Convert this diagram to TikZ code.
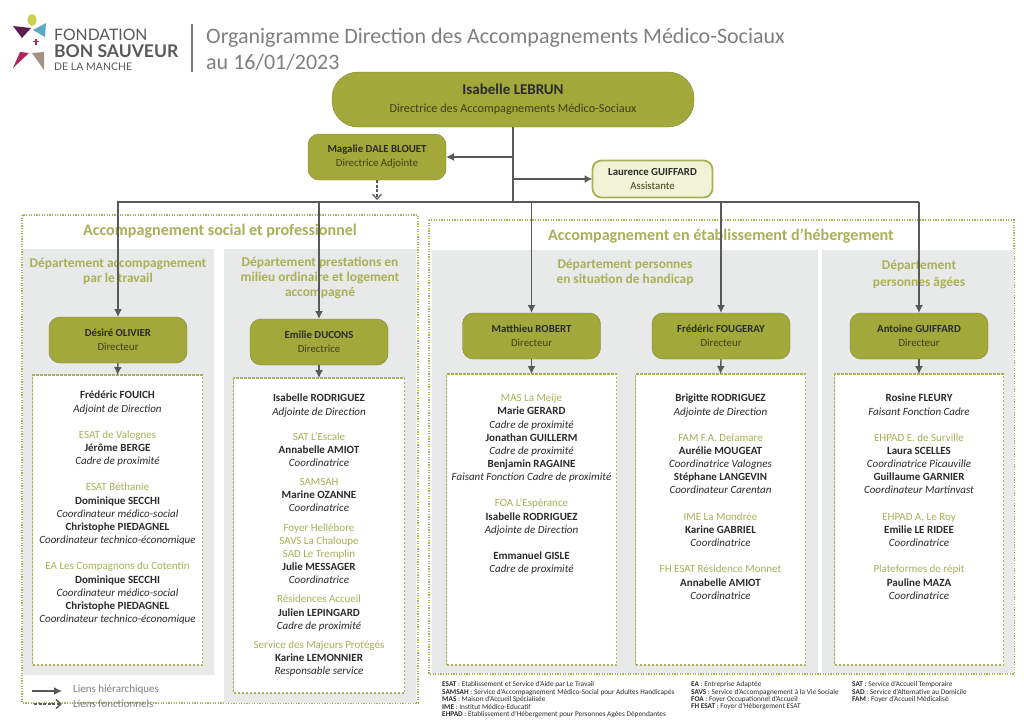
\documentclass[tikz,border=0pt]{standalone}
\usepackage{fontspec}
\setmainfont{Carlito}
\newfontfamily\logofont{Lato}
\usetikzlibrary{arrows.meta}
\definecolor{olivefill}{HTML}{A3A83A}
\definecolor{olivedk}{HTML}{7F8430}
\definecolor{ltol}{HTML}{A9B057}
\definecolor{pale}{HTML}{F1F3D6}
\definecolor{panelg}{HTML}{E8E9E9}
\definecolor{lineg}{HTML}{595959}
\definecolor{txtg}{HTML}{7F7F7F}
\definecolor{txtk}{HTML}{2B2B2B}
\definecolor{dirtxt}{HTML}{3F4018}
\definecolor{lgyellow}{HTML}{C9D24A}
\definecolor{lgpurple}{HTML}{5B1E4E}
\definecolor{lgblue}{HTML}{5BA9C4}
\definecolor{lgred}{HTML}{B0245F}
\definecolor{lgtaupe}{HTML}{A39382}
\definecolor{lgtext}{HTML}{58595B}
\newcommand{\hd}[1]{{\color{ltol}#1}}
\newcommand{\nm}[1]{{\bfseries\color{txtk}#1}}
\newcommand{\rl}[1]{{\itshape\color{txtk}#1}}
\tikzset{
 x=1pt,y=-1pt,
 dirbox/.style={draw=olivedk,fill=olivefill,rounded corners=11pt,minimum width=138pt,minimum height=46pt,align=center,font=\fontsize{10.8}{14}\selectfont,text=dirtxt,inner sep=0pt,outer sep=0pt},
 outerbox/.style={draw=ltol,dash pattern=on 1.2pt off 1.4pt,line width=1.1pt},
 panel/.style={fill=panelg},
 innerbox/.style={draw=ltol,fill=white,dash pattern=on 2.5pt off 1.5pt,line width=1.4pt,inner sep=0pt,outer sep=0pt},
 paneltxt/.style={anchor=north,align=center,font=\fontsize{11}{13.15}\selectfont,inner sep=0pt},
 secttl/.style={font=\fontsize{16.1}{18}\selectfont\bfseries,text=ltol,inner sep=0pt},
 depttl/.style={font=\fontsize{13.4}{15}\selectfont\bfseries,text=ltol,align=center,inner sep=0pt},
 hier/.style={draw=lineg,line width=1.4pt},
 hierarrow/.style={hier,-{Latex[length=8pt,width=8pt]}},
 fnarrow/.style={draw=lineg,line width=1.2pt,dash pattern=on 3pt off 1.5pt,-{Straight Barb[length=5pt,width=9pt]}},
 foot/.style={anchor=north west,align=left,font=\fontsize{7.3}{7.4}\selectfont,text=txtk,inner sep=0pt},
 legendtxt/.style={anchor=west,font=\fontsize{11}{13}\selectfont,text=txtg,inner sep=0pt},
 titletxt/.style={anchor=base west,font=\fontsize{22}{24}\selectfont,text=txtg,inner sep=0pt},
 logotxt/.style={anchor=base west,text=lgtext,inner sep=0pt},
}
\begin{document}
\begin{tikzpicture}
\useasboundingbox (0,0) rectangle (1024,724);
\fill[white] (0,0) rectangle (1024,724);
% logo
\fill[lgyellow] (32,20) ellipse (4.5pt and 6pt);
\fill[lgpurple] (13,26) -- (31,28) -- (22,38) -- cycle;
\fill[lgblue] (46,23) -- (33,30) -- (45,37) -- cycle;
\fill[lgred] (35.3,38.5) rectangle (36.7,44.5);
\fill[lgred] (33,40.8) rectangle (39,42.2);
\fill[lgred] (20,52) -- (29,53) -- (13,68) -- cycle;
\fill[lgtaupe] (32,53) -- (44,52) -- (44,70) -- cycle;
\node[logotxt,font=\logofont\fontsize{15.8}{16}\selectfont] (lg1) at (54,40) {FONDATION};
\node[logotxt,font=\logofont\bfseries\fontsize{17.5}{18}\selectfont] (lg2) at (54,57) {BON SAUVEUR};
\node[logotxt,font=\logofont\fontsize{10.5}{11}\selectfont] (lg3) at (54,70) {DE LA MANCHE};
\draw[lineg!80,line width=1.2pt] (192,24) -- (192,72);
\node[titletxt] (ttl1) at (206,43) {Organigramme Direction des Accompagnements Médico-Sociaux};
\node[titletxt] (ttl2) at (206,69) {au 16/01/2023};
% frames and panels
\draw[outerbox] (22,215) rectangle (418,703);
\draw[outerbox] (429,220) rectangle (1014,674);
\fill[panel] (23,249) rectangle (214,675);
\fill[panel] (224,249) rectangle (416,703);
\fill[panel] (432,250) rectangle (818,673);
\fill[panel] (822,250) rectangle (1014,673);
\node[secttl] (s1) at (220,231.5) {Accompagnement social et professionnel};
\node[secttl] (s2) at (721,236) {Accompagnement en établissement d’hébergement};
\node[depttl] (d1) at (118,271.5) {Département accompagnement\\par le travail};
\node[depttl] (d2) at (320,278) {Département prestations en\\milieu ordinaire et logement\\accompagné};
\node[depttl] (d3) at (625,272.5) {Département personnes\\en situation de handicap};
\node[depttl] (d4) at (919,274.5) {Département\\[2pt]personnes âgées};
% top nodes
\node[dirbox,rounded corners=26pt,minimum width=362pt,minimum height=55pt,font=\fontsize{12.2}{18}\selectfont] (top) at (513,99.5) {{\fontsize{15}{18}\selectfont\bfseries\color{txtk}Isabelle LEBRUN}\\Directrice des Accompagnements Médico-Sociaux};
\node[dirbox] (adj) at (377,157) {{\bfseries\color{txtk}Magalie DALE BLOUET}\\Directrice Adjointe};
\node[dirbox,draw=ltol,line width=1.8pt,fill=pale,minimum width=120pt,minimum height=37pt,rounded corners=9pt] (asst) at (652.5,179) {{\bfseries\color{txtk}Laurence GUIFFARD}\\Assistante};
% directors
\node[dirbox] (dir1) at (118,340) {{\bfseries\color{txtk}Désiré OLIVIER}\\Directeur};
\node[dirbox] (dir2) at (319,342) {{\bfseries\color{txtk}Emilie DUCONS}\\Directrice};
\node[dirbox] (dir3) at (531.5,336) {{\bfseries\color{txtk}Matthieu ROBERT}\\Directeur};
\node[dirbox] (dir4) at (721,336) {{\bfseries\color{txtk}Frédéric FOUGERAY}\\Directeur};
\node[dirbox] (dir5) at (919,336) {{\bfseries\color{txtk}Antoine GUIFFARD}\\Directeur};
% staff boxes
\node[innerbox,minimum width=170pt,minimum height=290pt] (box1) at (117.5,520) {};
\node[innerbox,minimum width=171pt,minimum height=315pt] (box2) at (319,535.5) {};
\node[innerbox,minimum width=170pt,minimum height=291pt] (box3) at (531.5,519.5) {};
\node[innerbox,minimum width=170pt,minimum height=291pt] (box4) at (720.5,519.5) {};
\node[innerbox,minimum width=169pt,minimum height=291pt] (box5) at (919,519.5) {};
\node[paneltxt] (t1) at (117.5,391) {\nm{Frédéric FOUICH}\\\rl{Adjoint de Direction}\\[13.15pt]
\hd{ESAT de Valognes}\\\nm{Jérôme BERGE}\\\rl{Cadre de proximité}\\[13.15pt]
\hd{ESAT Béthanie}\\\nm{Dominique SECCHI}\\\rl{Coordinateur médico-social}\\\nm{Christophe PIEDAGNEL}\\\rl{Coordinateur technico-économique}\\[13.15pt]
\hd{EA Les Compagnons du Cotentin}\\\nm{Dominique SECCHI}\\\rl{Coordinateur médico-social}\\\nm{Christophe PIEDAGNEL}\\\rl{Coordinateur technico-économique}};
\node[paneltxt] (t2) at (319,394) {\nm{Isabelle RODRIGUEZ}\\\rl{Adjointe de Direction}\\[12pt]
\hd{SAT L'Escale}\\\nm{Annabelle AMIOT}\\\rl{Coordinatrice}\\[6pt]
\hd{SAMSAH}\\\nm{Marine OZANNE}\\\rl{Coordinatrice}\\[6pt]
\hd{Foyer Hellébore}\\\hd{SAVS La Chaloupe}\\\hd{SAD Le Tremplin}\\\nm{Julie MESSAGER}\\\rl{Coordinatrice}\\[6pt]
\hd{Résidences Accueil}\\\nm{Julien LEPINGARD}\\\rl{Cadre de proximité}\\[6pt]
\hd{Service des Majeurs Protégés}\\\nm{Karine LEMONNIER}\\\rl{Responsable service}};
\node[paneltxt] (t3) at (531.5,394) {\hd{MAS La Meije}\\\nm{Marie GERARD}\\\rl{Cadre de proximité}\\\nm{Jonathan GUILLERM}\\\rl{Cadre de proximité}\\\nm{Benjamin RAGAINE}\\\rl{Faisant Fonction Cadre de proximité}\\[13.15pt]
\hd{FOA L'Espérance}\\\nm{Isabelle RODRIGUEZ}\\\rl{Adjointe de Direction}\\[13.15pt]
\nm{Emmanuel GISLE}\\\rl{Cadre de proximité}};
\node[paneltxt] (t4) at (720.5,394) {\nm{Brigitte RODRIGUEZ}\\\rl{Adjointe de Direction}\\[13.15pt]
\hd{FAM F.A. Delamare}\\\nm{Aurélie MOUGEAT}\\\rl{Coordinatrice Valognes}\\\nm{Stéphane LANGEVIN}\\\rl{Coordinateur Carentan}\\[13.15pt]
\hd{IME La Mondrée}\\\nm{Karine GABRIEL}\\\rl{Coordinatrice}\\[13.15pt]
\hd{FH ESAT Résidence Monnet}\\\nm{Annabelle AMIOT}\\\rl{Coordinatrice}};
\node[paneltxt] (t5) at (919,394) {\nm{Rosine FLEURY}\\\rl{Faisant Fonction Cadre}\\[13.15pt]
\hd{EHPAD E. de Surville}\\\nm{Laura SCELLES}\\\rl{Coordinatrice Picauville}\\\nm{Guillaume GARNIER}\\\rl{Coordinateur Martinvast}\\[13.15pt]
\hd{EHPAD A. Le Roy}\\\nm{Emilie LE RIDEE}\\\rl{Coordinatrice}\\[13.15pt]
\hd{Plateformes de répit}\\\nm{Pauline MAZA}\\\rl{Coordinatrice}};
% connectors
\coordinate (bus) at (513,202);
\coordinate (busL) at (117,202);
\coordinate (busR) at (919,202);
\draw[hier] (top.south) -- (bus);
\draw[hier] (busL) -- (busR);
\draw[hierarrow] (top.south |- adj.east) -- (adj.east);
\draw[hierarrow,line width=1.8pt] (top.south |- asst.west) -- (asst.west);
\coordinate (adjtip) at (377,200);
\draw[fnarrow] (adj.south) -- (adjtip);
\foreach \k in {1,...,5} {
  \draw[hierarrow] (dir\k.north |- bus) -- (dir\k.north);
  \draw[hierarrow] (dir\k.south) -- (box\k.north);
}
% legend
\coordinate (la1) at (32,691); \coordinate (la2) at (62,691);
\coordinate (lb1) at (34,704); \coordinate (lb2) at (62,704);
\draw[hierarrow] (la1) -- (la2);
\draw[fnarrow,line width=1.4pt] (lb1) -- (lb2);
\node[legendtxt] (l1) at (73,690) {Liens hiérarchiques};
\node[legendtxt] (l2) at (73,704) {Liens fonctionnels};
% footnotes
\node[foot] (f1) at (442,681.5) {\textbf{ESAT} : Etablissement et Service d'Aide par Le Travail\\\textbf{SAMSAH} : Service d'Accompagnement Médico-Social pour Adultes Handicapés\\\textbf{MAS} : Maison d'Accueil Spécialisée\\\textbf{IME} : Institut Médico-Educatif\\\textbf{EHPAD} : Etablissement d'Hébergement pour Personnes Agées Dépendantes};
\node[foot] (f2) at (691,681.5) {\textbf{EA} : Entreprise Adaptée\\\textbf{SAVS} : Service d'Accompagnement à la Vie Sociale\\\textbf{FOA} : Foyer Occupationnel d'Accueil\\\textbf{FH ESAT} : Foyer d'Hébergement ESAT};
\node[foot] (f3) at (852,681.5) {\textbf{SAT} : Service d'Accueil Temporaire\\\textbf{SAD} : Service d'Alternative au Domicile\\\textbf{FAM} : Foyer d'Accueil Médicalisé};
\end{tikzpicture}
\end{document}
